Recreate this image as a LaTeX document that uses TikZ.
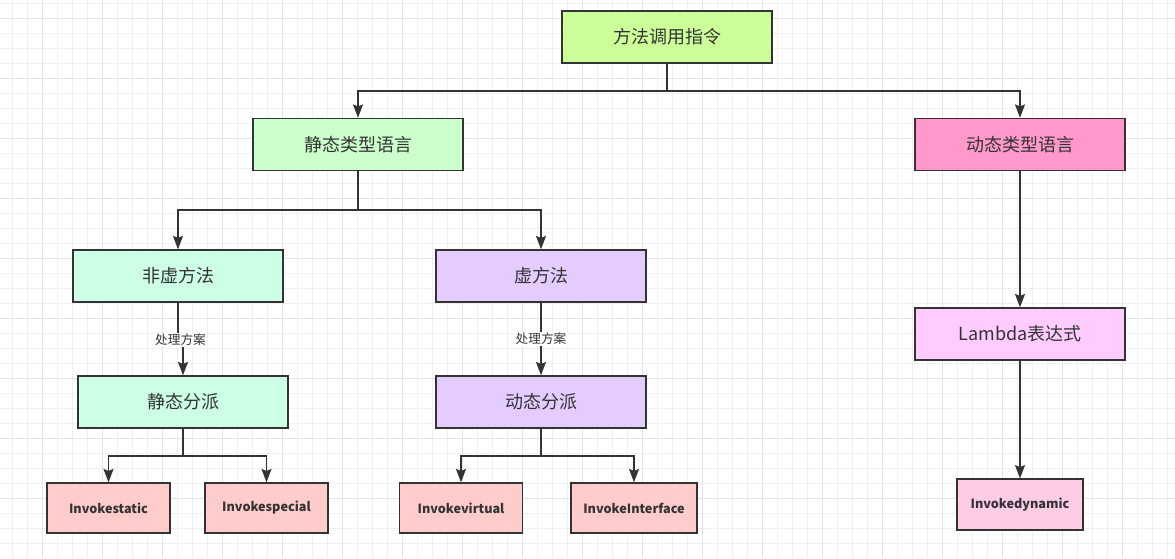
\documentclass[tikz,border=0pt]{standalone}
\usepackage{fontspec}
\setmainfont{Noto Sans CJK SC}
\usepackage{xcolor}
\definecolor{ink}{HTML}{333333}
\definecolor{gridlight}{HTML}{F0F0F0}
\definecolor{gridheavy}{HTML}{E4E4E4}
\definecolor{fillroot}{HTML}{CCFF99}
\definecolor{fillstatic}{HTML}{CCFFCC}
\definecolor{filldyn}{HTML}{FF99CC}
\definecolor{fillnonvirt}{HTML}{CCFFE6}
\definecolor{fillvirt}{HTML}{E5CCFF}
\definecolor{fillinvoke}{HTML}{FFCCCC}
\definecolor{filllambda}{HTML}{FFCCFF}
\definecolor{fillindy}{HTML}{FFCCE6}
\usetikzlibrary{arrows.meta,positioning}

\begin{document}
\begin{tikzpicture}[
  x=0.75pt, y=-0.75pt,
  font=\fontsize{13.5pt}{16pt}\selectfont, text=ink,
  box/.style={rectangle, draw=ink, line width=1.1pt, minimum width=157.5pt,
              minimum height=39pt, inner sep=0pt, align=center},
  small/.style={box, minimum width=92pt, minimum height=37.5pt,
                font=\fontsize{9.5pt}{11pt}\selectfont\bfseries, fill=fillinvoke},
  a/.style={-{Stealth[length=10pt, width=7.5pt, inset=1.5pt]}, line width=1.1pt, draw=ink},
  lbl/.style={fill=white, font=\fontsize{9.5pt}{11pt}\selectfont, inner sep=1pt},
  gl/.style={gridlight, line width=0.75pt},
  gh/.style={gridheavy, line width=0.75pt},
]
\useasboundingbox (0,0) rectangle (1175,558);
\fill[white] (0,0) rectangle (1175,558);

% ---- background grid
\foreach \x in {12.3,27.3,...,1175} { \draw[gl] (\x,0) -- (\x,558); }
\foreach \y in {3.3,18.3,...,558} { \draw[gl] (0,\y) -- (1175,\y); }
\foreach \x in {42.3,102.3,...,1175} { \draw[gh] (\x,0) -- (\x,558); }
\foreach \y in {18.3,78.3,...,558} { \draw[gh] (0,\y) -- (1175,\y); }

% ---- top and the two language kinds
\node[box, fill=fillroot] (call) at (667,37) {方法调用指令};
\node[box, fill=fillstatic] (stat) at (358,144.5) {静态类型语言};
\node[box, fill=filldyn] (dyn) at (1020,144.5) {动态类型语言};

\coordinate (b1) at (667,91);
\draw[a] (call.south) -- (b1) -| (stat.north);
\draw[a] (b1) -| (dyn.north);

% ---- static side: method kinds and dispatch
\node[box, fill=fillnonvirt] (nonv) at (178,276) {非虚方法};
\node[box, fill=fillvirt] (virt) at (541,276) {虚方法};
\node[box, fill=fillnonvirt] (sdis) at (183,402) {静态分派};
\node[box, fill=fillvirt] (ddis) at (541,402) {动态分派};

\coordinate (b2) at (358,210);
\draw[a] (stat.south) -- (b2) -| (nonv.north);
\draw[a] (b2) -| (virt.north);

\coordinate (m1) at (180.5,340);
\draw[a] (nonv.south) |- (m1) -| (sdis.north);
\node[lbl] at (m1) {处理方案};
\draw[a] (virt) -- node[lbl] {处理方案} (ddis);

% ---- bytecode instructions
\node[small] (istat) at (108.5,508) {Invokestatic};
\node[small] (ispec) at (266.5,508) {Invokespecial};
\node[small] (ivirt) at (461,508) {Invokevirtual};
\node[small, minimum width=94.5pt] (iintf) at (634,508) {InvokeInterface};

\coordinate (b3) at (183,456);
\draw[a] (sdis.south) -- (b3) -| (istat.north);
\draw[a] (b3) -| (ispec.north);
\coordinate (b4) at (541,456);
\draw[a] (ddis.south) -- (b4) -| (ivirt.north);
\draw[a] (b4) -| (iintf.north);

% ---- dynamic side
\node[box, fill=filllambda] (lam) at (1020,334) {Lambda表达式};
\node[small, fill=fillindy, minimum width=94.5pt, minimum height=38pt] (idyn) at (1020,504.5) {Invokedynamic};
\draw[a] (dyn) -- (lam);
\draw[a] (lam) -- (idyn);
\end{tikzpicture}
\end{document}
